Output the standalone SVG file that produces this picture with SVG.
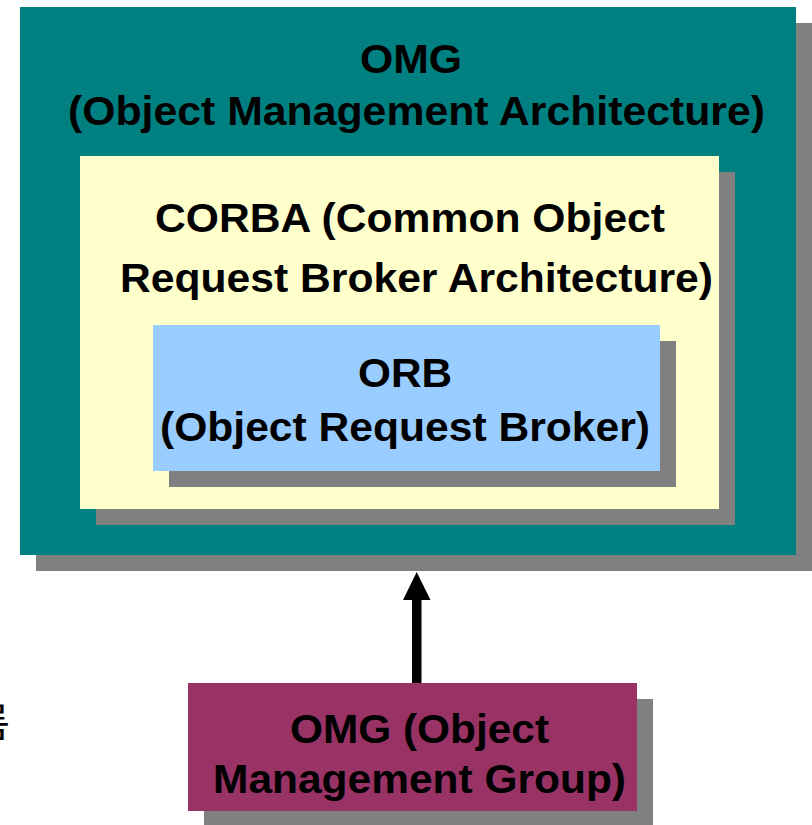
<svg xmlns="http://www.w3.org/2000/svg" width="812" height="825" viewBox="0 0 812 825">
<style>
.t{font-family:"Liberation Sans",Arial,sans-serif;font-weight:bold;font-size:40px;fill:#000;text-anchor:start}
.sh{fill:#808080}
</style>
<rect width="812" height="825" fill="#fff"/>
<text x="-27" y="737" style="font-family:'Noto Sans CJK KR',sans-serif;font-size:40px;fill:#000">름</text>
<g id="omg-arch">
<rect class="sh" x="36" y="23" width="776" height="548"/>
<rect x="20" y="7" width="776" height="548" fill="#008080"/>
<text class="t" x="360" y="73" textLength="102" lengthAdjust="spacingAndGlyphs">OMG</text>
<text class="t" x="68" y="125" textLength="697" lengthAdjust="spacingAndGlyphs">(Object Management Architecture)</text>
</g>
<g id="corba">
<rect class="sh" x="96" y="172" width="639" height="353"/>
<rect x="80" y="156" width="639" height="353" fill="#FFFFCC"/>
<text class="t" x="155" y="232" textLength="510" lengthAdjust="spacingAndGlyphs">CORBA (Common Object</text>
<text class="t" x="120" y="292" textLength="593" lengthAdjust="spacingAndGlyphs">Request Broker Architecture)</text>
</g>
<g id="orb">
<rect class="sh" x="169" y="341" width="507" height="146"/>
<rect x="153" y="325" width="507" height="146" fill="#99CCFF"/>
<text class="t" x="358" y="387" textLength="94" lengthAdjust="spacingAndGlyphs">ORB</text>
<text class="t" x="160" y="441" textLength="490" lengthAdjust="spacingAndGlyphs">(Object Request Broker)</text>
</g>
<g id="omg-group">
<rect class="sh" x="204" y="699" width="449" height="126"/>
<rect x="188" y="683" width="449" height="128" fill="#993366"/>
<text class="t" x="290" y="743" textLength="259" lengthAdjust="spacingAndGlyphs">OMG (Object</text>
<text class="t" x="213" y="793" textLength="413" lengthAdjust="spacingAndGlyphs">Management Group)</text>
</g>
<g id="connectors">
<rect x="412" y="598" width="9.5" height="85" fill="#000"/>
<polygon points="416.7,572 403,600 430.5,600" fill="#000"/>
</g>
</svg>
